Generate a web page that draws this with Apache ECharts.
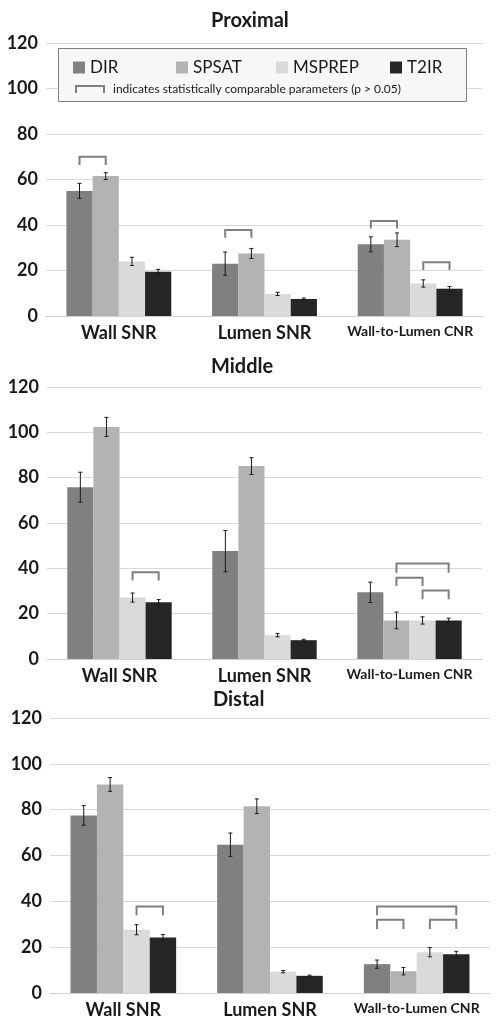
<!DOCTYPE html>
<html><head><meta charset="utf-8">
<script src="https://cdn.jsdelivr.net/npm/echarts@6/dist/echarts.min.js"></script>
<style>html,body{margin:0;padding:0;background:#fff}#c{width:498px;height:1022px}</style>
</head><body><div id="c"></div>
<script>
const categories = ['Wall SNR', 'Lumen SNR', 'Wall-to-Lumen CNR'];
const seriesNames = ['DIR', 'SPSAT', 'MSPREP', 'T2IR'];
const panelTitles = ['Proximal', 'Middle', 'Distal'];
const yMin = 0, yMax = 120, yStep = 20;

// Proximal
const proximalDIR = [55, 23, 31.5];
const proximalSPSAT = [61.5, 27.5, 33.5];
const proximalMSPREP = [24, 9.7, 14.3];
const proximalT2IR = [19.5, 7.5, 12];
const proximalDIRErr = [3.3, 5.1, 3.3];
const proximalSPSATErr = [1.5, 2.2, 3];
const proximalMSPREPErr = [1.8, 0.7, 1.6];
const proximalT2IRErr = [1, 0.4, 1];
// [category, fromSeries, toSeries, top, leg]
const proximalBrackets = [[0, 0, 1, 70, 66.4], [1, 0, 1, 37.8, 34.4], [2, 0, 1, 41.8, 38.5], [2, 2, 3, 23.6, 20.2]];

// Middle
const middleDIR = [75.8, 47.6, 29.4];
const middleSPSAT = [102.4, 85.1, 17];
const middleMSPREP = [27.1, 10.5, 17];
const middleT2IR = [25, 8.3, 17];
const middleDIRErr = [6.6, 9.1, 4.5];
const middleSPSATErr = [4.2, 3.7, 3.7];
const middleMSPREPErr = [2, 0.7, 1.6];
const middleT2IRErr = [1.2, 0.4, 1];
const middleBrackets = [[0, 2, 3, 38.3, 34.6], [2, 1, 3, 42.1, 38.1], [2, 1, 2, 35.9, 32.2], [2, 2, 3, 30.2, 26.4]];

// Distal
const distalDIR = [77.5, 64.7, 12.6];
const distalSPSAT = [91, 81.5, 9.5];
const distalMSPREP = [27.6, 9.3, 17.8];
const distalT2IR = [24.2, 7.5, 16.9];
const distalDIRErr = [4.3, 5.1, 1.8];
const distalSPSATErr = [3, 3.2, 1.6];
const distalMSPREPErr = [2.2, 0.5, 2];
const distalT2IRErr = [1.3, 0.3, 1.3];
const distalBrackets = [[0, 2, 3, 37.7, 33.9], [2, 0, 3, 37.7, 33.9], [2, 0, 1, 32, 27.9], [2, 2, 3, 32, 27.9]];

const colors = ['#808080', '#b3b3b3', '#dadada', '#262626'];
const FONT = 'Lato';
const GAP = 0.28;

const panels = [
  { means: [proximalDIR, proximalSPSAT, proximalMSPREP, proximalT2IR],
    errs: [proximalDIRErr, proximalSPSATErr, proximalMSPREPErr, proximalT2IRErr],
    brackets: proximalBrackets,
    grid: { left: 46, right: 15, top: 43, height: 273 }, titleLeft: 211, titleTop: 11 },
  { means: [middleDIR, middleSPSAT, middleMSPREP, middleT2IR],
    errs: [middleDIRErr, middleSPSATErr, middleMSPREPErr, middleT2IRErr],
    brackets: middleBrackets,
    grid: { left: 47, right: 16, top: 387, height: 272 }, titleLeft: 211, titleTop: 357 },
  { means: [distalDIR, distalSPSAT, distalMSPREP, distalT2IR],
    errs: [distalDIRErr, distalSPSATErr, distalMSPREPErr, distalT2IRErr],
    brackets: distalBrackets,
    grid: { left: 50, right: 8, top: 718, height: 275 }, titleLeft: 213, titleTop: 690 }
];

function barX(api, c, val, s) {
  const band = api.size([1, 0])[0];
  const group = band * (1 - GAP);
  const bw = group / 4;
  return api.coord([c, val])[0] - group / 2 + bw * (s + 0.5);
}

function errRender(params, api) {
  const c = api.value(0), m = api.value(1), e = api.value(2), s = api.value(3);
  const x = barX(api, c, m, s);
  const yT = api.coord([c, m + e])[1], yB = api.coord([c, m - e])[1];
  const st = { stroke: '#1a1a1a', lineWidth: 1 };
  const cap = 2;
  return { type: 'group', children: [
    { type: 'line', shape: { x1: x, y1: yT, x2: x, y2: yB }, style: st },
    { type: 'line', shape: { x1: x - cap, y1: yT, x2: x + cap, y2: yT }, style: st },
    { type: 'line', shape: { x1: x - cap, y1: yB, x2: x + cap, y2: yB }, style: st }
  ]};
}

function bracketRender(params, api) {
  const c = api.value(0), a = api.value(1), b = api.value(2), top = api.value(3), leg = api.value(4);
  const x1 = barX(api, c, top, a), x2 = barX(api, c, top, b);
  const yT = api.coord([c, top])[1], yL = api.coord([c, leg])[1];
  return { type: 'polyline', shape: { points: [[x1, yL], [x1, yT], [x2, yT], [x2, yL]] },
    style: { stroke: '#7f7f7f', lineWidth: 2, fill: null } };
}

const grids = [], xAxes = [], yAxes = [], series = [], titles = [];
panels.forEach((p, i) => {
  grids.push(p.grid);
  titles.push({ text: panelTitles[i], left: p.titleLeft, top: p.titleTop, padding: 0,
    textStyle: { fontFamily: FONT, fontWeight: 'bold', fontSize: 20, color: '#1a1a1a' } });
  xAxes.push({ type: 'category', gridIndex: i, data: categories,
    axisLine: { lineStyle: { color: '#d0d0d0', width: 1 } }, axisTick: { show: false },
    axisLabel: { interval: 0, margin: 8, color: '#1a1a1a', fontFamily: FONT, fontWeight: 'bold', fontSize: 18,
      formatter: v => v.length > 12 ? '{s|' + v + '}' : v,
      rich: { s: { fontFamily: FONT, fontWeight: 'bold', fontSize: 14, color: '#1a1a1a' } } } });
  yAxes.push({ type: 'value', gridIndex: i, min: yMin, max: yMax, interval: yStep,
    axisLine: { show: false }, axisTick: { show: false },
    splitLine: { lineStyle: { color: '#d9d9d9', width: 1 } },
    axisLabel: { margin: 8, color: '#1a1a1a', fontFamily: FONT, fontWeight: 'bold', fontSize: 18 } });
  seriesNames.forEach((n, s) => {
    series.push({ type: 'bar', name: n, xAxisIndex: i, yAxisIndex: i, data: p.means[s],
      barGap: '0%', barCategoryGap: (GAP * 100) + '%', itemStyle: { color: colors[s] },
      animation: false, silent: true });
  });
  const errData = [];
  seriesNames.forEach((n, s) => p.means[s].forEach((m, c) => errData.push([c, m, p.errs[s][c], s])));
  series.push({ type: 'custom', xAxisIndex: i, yAxisIndex: i, data: errData, renderItem: errRender,
    encode: { x: 0, y: 1 }, z: 5, animation: false, silent: true });
  series.push({ type: 'custom', xAxisIndex: i, yAxisIndex: i, data: p.brackets, renderItem: bracketRender,
    encode: { x: 0, y: 3 }, z: 5, animation: false, silent: true });
});

const legendLefts = [73, 176, 276, 390];
const legends = seriesNames.map((n, s) => ({
  data: [n], left: legendLefts[s], top: 59, icon: 'rect', itemWidth: 12, itemHeight: 12, padding: 0,
  selectedMode: false, z: 20,
  textStyle: { fontFamily: FONT, fontSize: 17, color: '#1a1a1a' }
}));

const chart = echarts.init(document.getElementById('c'), null, { renderer: 'canvas' });
chart.setOption({
  animation: false,
  backgroundColor: '#ffffff',
  title: titles,
  grid: grids, xAxis: xAxes, yAxis: yAxes, series: series,
  legend: legends,
  graphic: [
    { type: 'rect', left: 58, top: 48, shape: { width: 408, height: 53 }, z: 15,
      style: { fill: '#f7f7f7', stroke: '#7f7f7f', lineWidth: 1 } },
    { type: 'polyline', z: 16, shape: { points: [[76, 93], [76, 86], [104, 86], [104, 93]] },
      style: { stroke: '#7f7f7f', lineWidth: 2, fill: null } },
    { type: 'text', left: 113, top: 83, z: 16,
      style: { text: 'indicates statistically comparable parameters (p > 0.05)', fontFamily: FONT, fontSize: 12, fill: '#1a1a1a' } }
  ]
});
</script></body></html>
